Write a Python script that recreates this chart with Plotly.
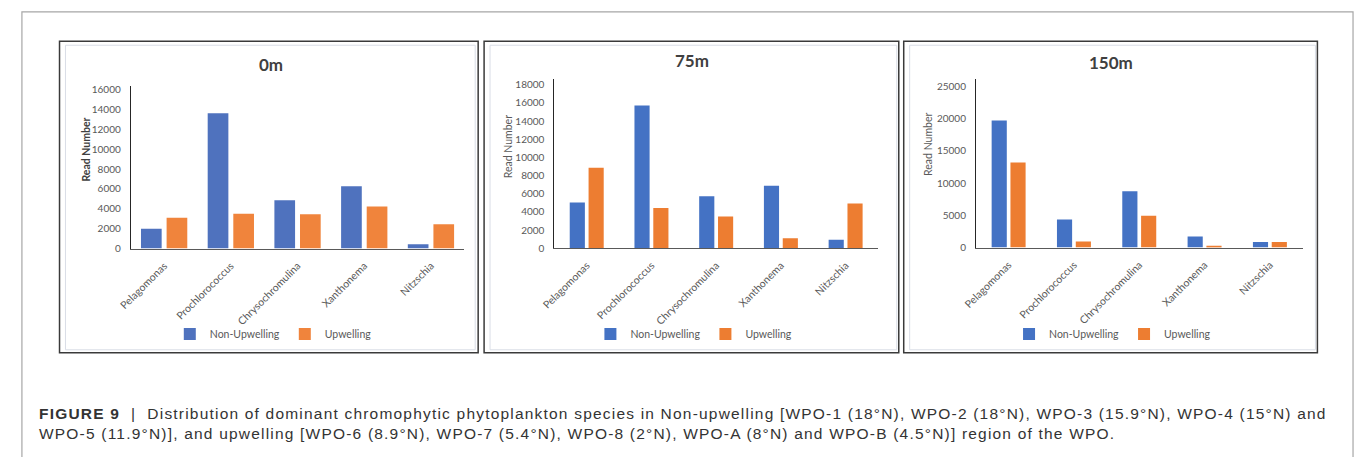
import plotly.graph_objects as go

W, H = 1356, 457

categories = ["Pelagomonas", "Prochlorococcus", "Chrysochromulina", "Xanthonema", "Nitzschia"]
series_names = ["Non-Upwelling", "Upwelling"]

nonup_0m = [2000, 13600, 4850, 6270, 430]
up_0m = [3100, 3500, 3450, 4220, 2440]

nonup_75m = [5050, 15700, 5740, 6890, 940]
up_75m = [8870, 4440, 3500, 1120, 4940]

nonup_150m = [19700, 4360, 8720, 1720, 860]
up_150m = [13200, 960, 4920, 250, 860]

panel_titles = ["0m", "75m", "150m"]
yaxis_title = "Read Number"
ticks_0m = [0, 2000, 4000, 6000, 8000, 10000, 12000, 14000, 16000]
ticks_75m = [0, 2000, 4000, 6000, 8000, 10000, 12000, 14000, 16000, 18000]
ticks_150m = [0, 5000, 10000, 15000, 20000, 25000]

caption_line1 = ("<b>FIGURE 9</b>  |  Distribution of dominant chromophytic phytoplankton species in "
                 "Non-upwelling [WPO-1 (18°N), WPO-2 (18°N), WPO-3 (15.9°N), WPO-4 (15°N) and")
caption_line2 = ("WPO-5 (11.9°N)], and upwelling [WPO-6 (8.9°N), WPO-7 (5.4°N), WPO-8 (2°N), "
                 "WPO-A (8°N) and WPO-B (4.5°N)] region of the WPO.")


def px(x):
    return x / W


def py(y):
    return 1 - y / H


FONT = "Lato"
TXT = "#595959"

panels = [
    dict(nu=nonup_0m, up=up_0m, ticks=ticks_0m, title=panel_titles[0],
         x0=118, x1=455, ytop=85, yzero=251, ytick_top=89,
         colors=("#4f72be", "#f0843c"), bar=0.31, gap=0.074,
         title_xy=(260, 64), ytitle_xy=(73, 150), legend_xy=(262, 338),
         box=(46, 40, 469, 357), inner=(52, 44, 466, 354), ytitle_bold=True),
    dict(nu=nonup_75m, up=up_75m, ticks=ticks_75m, title=panel_titles[1],
         x0=546, x1=873, ytop=78, yzero=250.7, ytick_top=84.2,
         colors=("#4472C4", "#ED7D31"), bar=0.234, gap=0.057,
         title_xy=(685, 60), ytitle_xy=(500, 147), legend_xy=(687, 338),
         box=(475, 40, 894, 357), inner=(481, 44, 892, 354), ytitle_bold=False),
    dict(nu=nonup_150m, up=up_150m, ticks=ticks_150m, title=panel_titles[2],
         x0=972, x1=1302, ytop=78, yzero=250, ytick_top=85.7,
         colors=("#4472C4", "#ED7D31"), bar=0.232, gap=0.056,
         title_xy=(1108, 62), ytitle_xy=(924, 145), legend_xy=(1110, 338),
         box=(899, 40, 1317, 357), inner=(905, 44, 1315, 354), ytitle_bold=False),
]

fig = go.Figure()
layout = dict(
    width=W, height=H, margin=dict(l=0, r=0, t=0, b=0),
    paper_bgcolor="white", plot_bgcolor="white",
    barmode="group", font=dict(family=FONT, color=TXT, size=10),
    showlegend=True,
)
annotations = []
shapes = []

# outer figure frame
shapes.append(dict(type="rect", xref="paper", yref="paper",
                   x0=px(8), x1=px(1353), y0=py(10), y1=py(480),
                   line=dict(color="#a6a6a6", width=1.2), fillcolor="rgba(0,0,0,0)", layer="below"))

for i, p in enumerate(panels):
    n = i + 1
    xa = "x" if n == 1 else f"x{n}"
    ya = "y" if n == 1 else f"y{n}"
    lg = "legend" if n == 1 else f"legend{n}"
    top_val = p["ticks"][-1] * (p["yzero"] - p["ytop"]) / (p["yzero"] - p["ytick_top"])

    fig.add_trace(go.Bar(x=categories, y=p["nu"], name=series_names[0], xaxis=xa, yaxis=ya,
                         marker=dict(color=p["colors"][0], line=dict(width=0)),
                         width=p["bar"], offset=-(p["bar"] + p["gap"] / 2), legend=lg))
    fig.add_trace(go.Bar(x=categories, y=p["up"], name=series_names[1], xaxis=xa, yaxis=ya,
                         marker=dict(color=p["colors"][1], line=dict(width=0)),
                         width=p["bar"], offset=p["gap"] / 2, legend=lg))

    xkey = "xaxis" if n == 1 else f"xaxis{n}"
    ykey = "yaxis" if n == 1 else f"yaxis{n}"
    layout[xkey] = dict(domain=[px(p["x0"]), px(p["x1"])], anchor=ya,
                        showline=True, linecolor="#595959", linewidth=1,
                        showgrid=False, zeroline=False, ticks="",
                        tickangle=-45, tickfont=dict(family=FONT, size=10.5, color=TXT),
                        ticklabelstandoff=6, range=[-0.5, 4.5])
    layout[ykey] = dict(domain=[py(p["yzero"]), py(p["ytop"])], anchor=xa,
                        range=[0, top_val], tickvals=p["ticks"],
                        ticktext=[str(v) for v in p["ticks"]],
                        showline=True, linecolor="#262626", linewidth=1,
                        showgrid=False, zeroline=False, ticks="",
                        tickfont=dict(family=FONT, size=10, color=TXT),
                        ticklabelstandoff=7)
    layout[lg] = dict(orientation="h", x=px(p["legend_xy"][0]), y=py(p["legend_xy"][1]),
                      xanchor="center", yanchor="middle", bgcolor="rgba(0,0,0,0)",
                      font=dict(family=FONT, size=10.5, color=TXT), itemwidth=30,
                      traceorder="normal")

    # panel title
    annotations.append(dict(text=f"<b>{p['title']}</b>", x=px(p["title_xy"][0]), y=py(p["title_xy"][1]),
                            xref="paper", yref="paper", showarrow=False, xanchor="center", yanchor="middle",
                            font=dict(family=FONT, size=17, color="#404040")))
    # y-axis title
    yt = f"<b>{yaxis_title}</b>" if p["ytitle_bold"] else yaxis_title
    annotations.append(dict(text=yt, x=px(p["ytitle_xy"][0]), y=py(p["ytitle_xy"][1]),
                            xref="paper", yref="paper", showarrow=False, textangle=-90,
                            xanchor="center", yanchor="middle",
                            font=dict(family=FONT, size=10.5, color="#404040" if p["ytitle_bold"] else TXT)))
    # panel frame
    bx0, by0, bx1, by1 = p["box"]
    shapes.append(dict(type="rect", xref="paper", yref="paper",
                       x0=px(bx0), x1=px(bx1), y0=py(by1), y1=py(by0),
                       line=dict(color="#3a3a3a", width=1.5), fillcolor="rgba(0,0,0,0)", layer="below"))
    ix0, iy0, ix1, iy1 = p["inner"]
    shapes.append(dict(type="rect", xref="paper", yref="paper",
                       x0=px(ix0), x1=px(ix1), y0=py(iy1), y1=py(iy0),
                       line=dict(color="#d9dde6", width=1), fillcolor="rgba(0,0,0,0)", layer="below"))

# caption
cap_style = "letter-spacing:1.2px"
annotations.append(dict(text=f"<span style='{cap_style}'>{caption_line1}</span>", x=px(23), y=py(419),
                        xref="paper", yref="paper",
                        showarrow=False, xanchor="left", yanchor="middle",
                        font=dict(family="Liberation Sans", size=15.5, color="#333333")))
annotations.append(dict(text=f"<span style='{cap_style}'>{caption_line2}</span>", x=px(23), y=py(439),
                        xref="paper", yref="paper",
                        showarrow=False, xanchor="left", yanchor="middle",
                        font=dict(family="Liberation Sans", size=15.5, color="#333333")))

layout["annotations"] = annotations
layout["shapes"] = shapes
fig.update_layout(**layout)
fig.write_html("out.html")
